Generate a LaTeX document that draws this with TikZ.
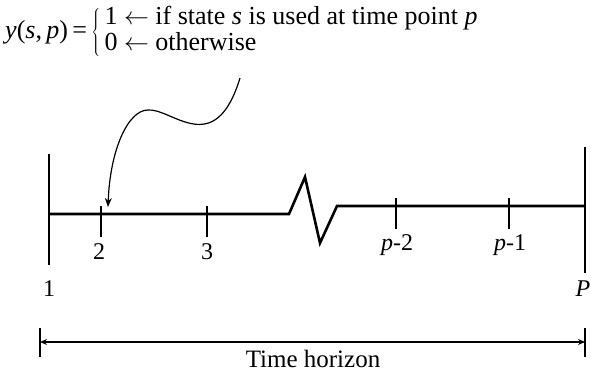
\documentclass[tikz,border=0pt]{standalone}
\usepackage{fontspec}
\setmainfont{Liberation Serif}
\usepackage{tikz}
\usetikzlibrary{arrows.meta}

\begin{document}
\begin{tikzpicture}[
    x=1pt, y=-1pt,
    axis/.style={line width=2.6pt, line join=miter},
    tick/.style={line width=2.6pt},
    lbl/.style={font=\fontsize{24}{26}\selectfont, inner sep=0pt},
    span/.style={{Stealth[length=7pt,width=6pt]}-{Stealth[length=7pt,width=6pt]}, line width=1.8pt},
    curvy/.style={-{Stealth[length=9pt,width=7pt]}, line width=1.2pt}
]
    \useasboundingbox[fill=white] (0,0) rectangle (591,372);

    % Definition
    \node[anchor=west, inner sep=0pt, font=\fontsize{26}{24}\selectfont] (ydef) at (5,32)
        {\textit{y}(\textit{s},\,\textit{p})\,=\,$\left\{\begin{tabular}{@{\,}l@{}}1 $\leftarrow$ if state \textit{s} is used at time point \textit{p}\\[1pt]0 $\leftarrow$ otherwise\end{tabular}\right.$};
    \coordinate (cstart) at (240,78);
    \coordinate (crest) at (148,110);

    % Timeline
    \coordinate (lbar) at (49,214);
    \coordinate (rbar) at (585,206);
    \coordinate (t2) at (101,214);
    \coordinate (t3) at (207,214);
    \coordinate (tp2) at (396,206);
    \coordinate (tp1) at (509,206);
    \draw[axis] (49,154) -- (49,265);
    \draw[axis] (585,147) -- (585,273);
    \draw[axis] (lbar) -- (289,214) -- (305,177) -- (320,243) -- (337,206) -- (rbar);
    \foreach \t in {t2,t3,tp2,tp1}
        \draw[tick] (\t) ++(0,-8) -- ++(0,31);

    \node[lbl] (n1) at (49,289) {1};
    \node[lbl] (n2) at (99,252) {2};
    \node[lbl] (n3) at (207,252) {3};
    \node[lbl] (np2) at (397,245) {\textit{p}-2};
    \node[lbl] (np1) at (510,245) {\textit{p}-1};
    \node[lbl] (nP) at (583,289) {\textit{P}};

    % Pointer
    \coordinate (ctip) at (108,207);
    \draw[curvy] (cstart) .. controls (215,160) and (172,108) .. (crest)
        .. controls (128,110) and (110,150) .. (ctip);

    % Horizon
    \coordinate (hl) at (40,342);
    \coordinate (hr) at (585,342);
    \draw[tick, line width=2pt] (40,328) -- (40,357);
    \draw[tick, line width=2pt] (585,328) -- (585,357);
    \draw[span] (hl) -- (hr);
    \node[lbl, font=\fontsize{25}{26}\selectfont] (horizon) at (313,359) {Time horizon};
\end{tikzpicture}
\end{document}
